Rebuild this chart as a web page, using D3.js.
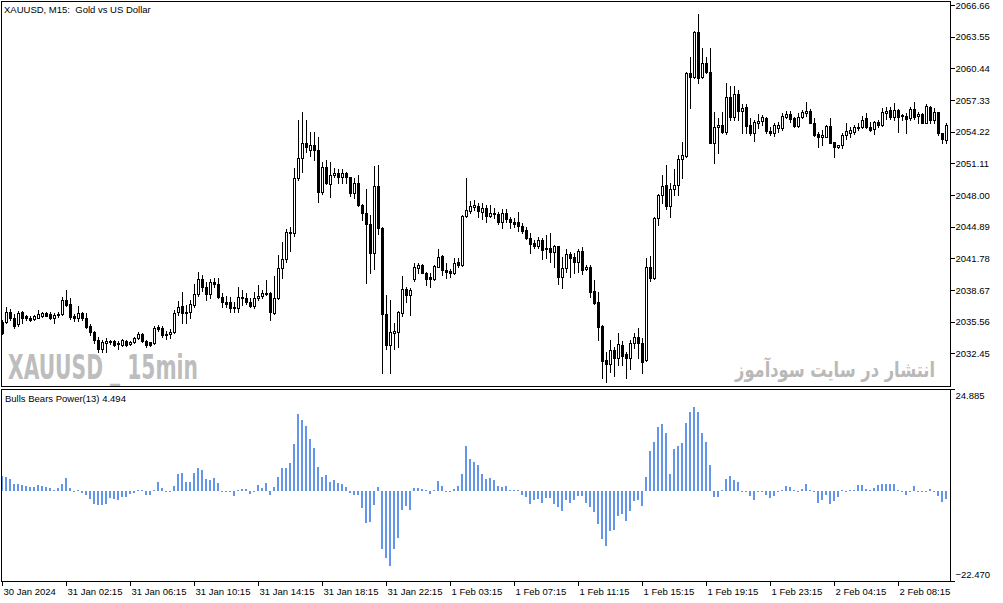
<!DOCTYPE html>
<html><head><meta charset="utf-8">
<script src="https://cdn.jsdelivr.net/npm/d3@7"></script>
<style>
html,body{margin:0;padding:0;background:#fff;overflow:hidden}
svg{display:block}
text{font-family:"Liberation Sans",Arial,sans-serif;font-size:9.5px;fill:#000}
</style></head><body>
<svg id="c" width="1003" height="603"></svg>
<script>
// ---- DATA (XAUUSD M15, bars from 30 Jan 2024 22:15) ----
const open=[2035.56,
2035.56,2036.48,2035.96,2035.30,2036.48,2036.15,2035.96,2035.79,2035.96,2036.15,
2036.38,2036.35,2035.89,2036.22,2036.28,2037.69,2037.27,2036.12,2035.89,2036.45,
2035.89,2035.14,2034.58,2033.76,2032.88,2033.44,2033.67,2033.67,2033.40,2033.27,
2033.67,2033.40,2033.53,2033.99,2034.35,2033.67,2033.53,2033.44,2035.07,2034.97,
2034.25,2034.35,2034.55,2036.48,2037.10,2036.55,2036.48,2037.20,2038.25,2039.76,
2039.00,2038.25,2039.49,2039.23,2038.02,2037.47,2037.47,2037.04,2036.87,2038.02,
2037.92,2037.47,2037.14,2037.86,2038.12,2038.35,2038.35,2036.38,2037.92,2040.80,
2041.72,2044.40,2044.30,2049.64,2051.67,2053.08,2052.42,2052.91,2052.42,2048.26,
2050.72,2049.08,2049.93,2050.13,2049.74,2050.13,2049.74,2048.17,2049.21,2047.02,
2046.27,2045.16,2042.34,2048.89,2044.73,2036.32,2033.27,2034.49,2034.58,2036.45,
2038.74,2038.18,2039.72,2040.80,2041.13,2040.38,2039.92,2039.72,2040.97,2042.01,
2040.64,2040.57,2040.31,2041.46,2041.13,2045.94,2046.47,2046.86,2046.92,2046.36,
2046.75,2045.97,2046.20,2046.10,2045.38,2046.20,2045.64,2045.31,2045.31,2044.99,
2044.56,2043.74,2043.25,2043.02,2043.58,2042.70,2042.76,2042.37,2042.99,2039.98,
2040.80,2042.17,2041.94,2041.39,2042.50,2040.73,2040.96,2038.57,2037.46,2035.18,
2031.80,2031.44,2032.78,2031.97,2033.28,2032.36,2032.03,2033.44,2034.09,2033.44,
2031.77,2040.97,2039.82,2045.71,2048.00,2048.99,2046.90,2048.56,2048.99,2051.51,
2051.87,2060.02,2059.56,2064.04,2059.56,2061.00,2060.12,2053.14,2054.65,2054.88,
2054.23,2057.66,2055.70,2057.93,2056.29,2056.68,2054.88,2054.06,2055.05,2055.31,
2055.54,2054.33,2054.13,2054.55,2054.55,2055.70,2055.96,2055.54,2054.78,2055.63,
2056.09,2056.29,2055.11,2054.00,2053.67,2053.74,2054.78,2053.25,2052.69,2052.92,
2053.90,2054.13,2054.23,2054.55,2054.65,2055.54,2054.72,2054.46,2055.21,2054.88,
2056.09,2056.35,2055.63,2056.35,2055.77,2055.77,2055.54,2056.42,2055.77,2055.96,
2055.11,2056.62,2055.37,2056.19,2054.06,2053.41];
const high=[2035.73,
2037.04,2036.78,2036.28,2036.61,2036.61,2036.22,2036.12,2036.22,2036.71,2036.55,
2036.55,2036.48,2036.38,2036.55,2038.02,2038.67,2037.86,2036.28,2037.14,2036.55,
2036.38,2035.30,2034.65,2034.09,2033.76,2033.93,2033.76,2033.76,2033.67,2033.86,
2033.76,2033.67,2034.09,2034.52,2034.42,2033.76,2033.60,2035.17,2035.24,2035.17,
2034.60,2034.80,2036.71,2037.60,2038.45,2037.20,2037.69,2039.23,2040.48,2040.15,
2039.49,2039.76,2039.82,2039.89,2038.35,2038.12,2038.02,2037.53,2039.00,2038.67,
2038.35,2037.86,2038.45,2039.17,2038.67,2039.66,2038.51,2040.08,2042.11,2043.36,
2044.66,2044.89,2050.69,2055.37,2056.19,2055.37,2054.22,2054.16,2053.73,2051.28,
2051.44,2051.28,2050.62,2050.52,2050.52,2050.29,2049.80,2049.64,2049.97,2047.12,
2048.56,2046.04,2050.85,2050.95,2044.89,2038.18,2037.69,2035.47,2036.65,2040.05,
2038.94,2038.84,2041.29,2041.36,2041.23,2040.48,2040.31,2041.13,2042.67,2042.11,
2041.29,2040.70,2041.78,2041.78,2046.04,2049.64,2047.45,2047.51,2047.25,2047.20,
2047.02,2047.02,2046.75,2046.30,2046.62,2046.62,2045.87,2045.71,2046.36,2045.22,
2044.89,2044.23,2043.58,2043.91,2043.74,2044.07,2044.23,2043.09,2043.02,2041.94,
2042.70,2042.37,2042.27,2042.70,2042.93,2041.13,2041.13,2039.65,2038.50,2035.24,
2032.62,2033.77,2033.11,2034.42,2033.67,2032.56,2033.77,2034.42,2034.91,2033.93,
2041.79,2042.05,2045.88,2048.07,2049.97,2050.95,2049.15,2050.53,2051.93,2053.24,
2060.12,2061.59,2064.14,2065.78,2062.41,2061.59,2062.41,2056.19,2055.53,2056.19,
2058.97,2058.71,2058.71,2058.32,2056.94,2056.94,2055.54,2055.37,2055.93,2055.86,
2055.63,2054.72,2055.11,2055.21,2056.03,2056.29,2056.29,2055.70,2056.09,2056.35,
2057.17,2056.42,2055.54,2054.23,2054.39,2054.88,2055.54,2053.25,2052.92,2054.13,
2055.05,2054.65,2054.88,2055.11,2055.77,2056.03,2055.21,2055.31,2055.37,2056.52,
2056.62,2056.68,2057.01,2056.42,2055.96,2056.03,2056.62,2057.17,2056.19,2056.03,
2056.94,2056.75,2056.52,2056.19,2054.13,2055.05];
const low=[2034.32,
2035.40,2035.73,2034.97,2035.17,2035.40,2035.73,2035.63,2035.70,2035.89,2036.06,
2036.15,2035.79,2035.40,2036.06,2036.22,2037.14,2035.83,2035.63,2035.66,2035.73,
2034.97,2034.25,2033.44,2032.62,2032.62,2032.62,2033.34,2033.21,2032.88,2033.21,
2033.21,2033.27,2033.44,2033.86,2033.53,2033.11,2033.21,2033.34,2034.65,2034.09,
2033.90,2034.00,2034.45,2036.22,2035.40,2035.40,2035.89,2037.04,2038.12,2038.58,
2037.69,2037.92,2039.00,2037.86,2037.04,2037.04,2036.55,2036.55,2036.55,2037.20,
2037.27,2037.04,2036.87,2037.69,2037.86,2038.18,2035.73,2036.29,2037.79,2039.89,
2041.46,2042.50,2044.01,2049.48,2050.29,2052.26,2051.87,2051.44,2047.35,2048.07,
2049.08,2047.77,2049.80,2049.21,2049.21,2049.21,2047.91,2047.68,2046.92,2045.55,
2039.40,2040.38,2040.70,2044.17,2030.56,2032.85,2030.56,2032.85,2033.05,2036.12,
2037.53,2036.22,2039.59,2040.31,2040.31,2039.17,2038.94,2039.66,2040.90,2040.15,
2039.82,2039.98,2040.25,2040.97,2041.03,2045.81,2046.27,2046.53,2045.81,2045.65,
2045.38,2045.87,2045.71,2045.12,2044.79,2045.31,2044.73,2044.89,2044.46,2044.23,
2043.68,2042.27,2042.76,2042.76,2041.71,2041.85,2041.45,2040.96,2039.23,2038.83,
2040.47,2039.98,2040.31,2040.41,2040.21,2040.63,2038.02,2037.26,2033.77,2030.00,
2029.68,2030.59,2030.27,2031.31,2031.31,2030.00,2030.92,2032.95,2031.97,2030.49,
2031.71,2039.56,2039.76,2045.06,2047.19,2046.60,2045.80,2048.00,2048.00,2049.64,
2051.77,2056.52,2059.46,2059.04,2059.46,2059.95,2053.08,2051.18,2052.10,2054.06,
2054.00,2055.37,2055.37,2055.37,2054.13,2054.13,2053.90,2053.34,2054.55,2054.88,
2054.13,2053.90,2053.80,2054.23,2054.39,2055.54,2055.21,2054.65,2054.65,2055.54,
2055.77,2055.05,2053.80,2052.75,2052.92,2053.67,2053.08,2051.77,2052.59,2052.59,
2053.47,2053.74,2054.00,2054.39,2054.55,2054.55,2054.33,2054.00,2054.72,2054.78,
2055.44,2055.44,2055.37,2054.23,2055.37,2054.06,2055.37,2055.44,2055.05,2055.11,
2055.05,2055.05,2055.11,2053.90,2053.08,2053.15];
const close=[2034.42,
2036.48,2035.89,2035.14,2036.38,2035.96,2035.89,2035.73,2036.09,2036.35,2036.42,
2036.15,2035.89,2036.22,2036.32,2037.69,2037.20,2035.99,2035.89,2036.38,2035.89,
2035.07,2034.52,2033.76,2032.88,2033.60,2033.67,2033.53,2033.27,2033.50,2033.76,
2033.27,2033.60,2033.99,2034.32,2033.67,2033.27,2033.27,2034.97,2034.84,2034.25,
2034.35,2034.55,2036.38,2037.04,2036.38,2036.38,2037.27,2038.25,2039.76,2039.00,
2038.25,2039.49,2039.23,2038.02,2037.47,2037.27,2036.87,2036.87,2038.02,2037.92,
2037.47,2037.14,2037.86,2038.12,2038.35,2038.32,2036.48,2037.92,2040.80,2041.72,
2044.40,2044.30,2049.64,2051.67,2053.08,2052.75,2052.91,2052.42,2048.26,2050.79,
2049.21,2049.97,2050.13,2049.74,2050.13,2049.74,2048.17,2049.21,2047.02,2046.27,
2045.16,2042.34,2048.89,2044.73,2036.32,2033.27,2034.58,2034.68,2036.55,2038.74,
2038.18,2038.68,2040.90,2041.13,2040.38,2039.79,2039.72,2041.03,2041.88,2040.64,
2040.48,2040.31,2041.36,2041.13,2045.94,2046.53,2046.92,2047.02,2046.47,2046.72,
2045.97,2046.20,2046.10,2045.38,2046.20,2045.64,2045.31,2045.12,2044.99,2044.46,
2043.74,2043.15,2043.02,2043.58,2042.60,2042.76,2042.43,2042.99,2039.98,2040.80,
2042.17,2041.85,2041.39,2042.50,2040.63,2040.96,2038.51,2037.36,2035.08,2031.71,
2031.44,2032.78,2031.97,2033.34,2032.23,2032.03,2033.44,2034.09,2033.44,2031.64,
2040.97,2039.82,2045.71,2048.00,2048.92,2046.90,2048.56,2048.99,2051.51,2051.93,
2060.02,2059.56,2064.04,2059.46,2061.00,2060.12,2053.14,2054.65,2054.88,2054.22,
2057.66,2055.70,2057.93,2056.29,2056.52,2054.78,2054.06,2055.21,2055.27,2055.63,
2054.33,2054.06,2054.88,2054.88,2055.77,2055.96,2055.44,2054.78,2055.70,2056.19,
2056.29,2055.05,2053.90,2053.67,2053.90,2054.78,2053.15,2052.69,2052.92,2053.90,
2054.33,2054.39,2054.65,2054.72,2055.37,2054.72,2054.39,2055.21,2054.88,2056.19,
2056.29,2055.63,2056.35,2055.70,2055.86,2055.44,2056.42,2055.63,2055.96,2055.11,
2056.75,2055.37,2056.19,2054.06,2053.47,2054.88];
const bullsBears=[3.6,
3.45,3.04,1.81,1.81,1.48,1.15,0.99,0.99,1.48,1.15,
0.99,0.82,0.16,0.74,1.81,3.29,0.74,-0.08,0.25,-0.49,
-0.99,-1.97,-3.13,-3.45,-3.45,-3.13,-1.73,-1.97,-2.22,-1.48,
-1.40,-0.74,-0.49,0.33,0.08,-0.90,-0.90,0.33,2.30,0.82,
-0.25,-0.16,1.23,4.28,4.52,2.30,2.30,4.52,5.67,5.18,
3.04,2.71,3.29,2.06,-0.16,-0.16,-0.33,-1.15,0.33,0.58,
0.58,-0.66,-0.08,1.56,0.82,2.06,-0.90,0.99,3.45,5.76,
5.76,6.99,11.68,19.08,17.60,16.12,12.83,10.69,5.92,3.54,
4.03,2.30,2.71,1.97,1.81,0.99,-0.41,-0.90,-0.90,-4.11,
-7.81,-7.57,-3.37,0.99,-14.23,-16.45,-18.42,-14.23,-11.51,-4.61,
-3.70,-4.61,0.82,0.82,0.58,0.16,-0.66,0.33,2.55,1.32,
-0.16,-0.08,0.58,1.32,4.28,11.10,7.98,7.24,6.50,4.28,
3.04,3.29,2.80,1.32,0.99,1.23,0.08,0.08,0.25,-0.90,
-1.40,-3.13,-2.14,-1.89,-2.88,-1.64,-1.64,-3.13,-3.87,-4.85,
-2.14,-2.88,-2.14,-1.15,-1.15,-2.88,-3.87,-5.10,-8.06,-11.76,
-13.49,-9.79,-9.54,-6.09,-5.59,-7.32,-4.85,-2.38,-2.14,-3.62,
3.45,9.87,12.09,15.79,16.61,14.31,4.19,10.36,11.10,11.84,
16.78,19.49,20.72,19.49,14.31,12.09,6.41,-1.48,-1.48,0.08,
2.96,3.70,2.71,2.30,-0.08,-0.08,-1.15,-2.14,-0.08,-0.33,
-0.90,-1.64,-1.15,-0.08,0.08,1.23,0.99,0.08,-0.08,0.58,
1.73,0.33,-0.25,-2.88,-2.14,-0.90,-3.13,-2.38,-1.40,0.25,
-0.08,0.25,0.25,1.48,1.48,0.49,0.33,0.74,1.48,1.73,
1.73,1.73,1.73,0.08,-0.08,-0.90,-0.08,1.23,-0.08,-0.08,
-0.08,0.49,-0.16,-1.23,-2.63,-1.89];
const priceTicks=[2066.66,2063.55,2060.44,2057.33,2054.22,2051.11,2048.00,2044.89,2041.78,2038.67,2035.56,2032.45];
const indTicks=[24.885,-22.470];
const timeTickBars=[0,16,32,48,64,80,96,112,128,144,160,176,192,208,224];
const timeLabels=["30 Jan 2024","31 Jan 02:15","31 Jan 06:15","31 Jan 10:15","31 Jan 14:15","31 Jan 18:15","31 Jan 22:15","1 Feb 03:15","1 Feb 07:15","1 Feb 11:15","1 Feb 15:15","1 Feb 19:15","1 Feb 23:15","2 Feb 04:15","2 Feb 08:15"];
const chartTitle="XAUUSD, M15:  Gold vs US Dollar";
const indTitle="Bulls Bears Power(13) 4.494";

// ---- LAYOUT ----
const svg=d3.select('#c').attr('shape-rendering','crispEdges');
const PR=950; // right edge of panels
const main={top:1,bottom:386};
const ind={top:390,bottom:582};
const x=d3.scaleLinear().domain([0,open.length-1]).range([2,2+4*(open.length-1)]);
const y=d3.scaleLinear().domain([2032.45,2066.66]).range([353.33,5]);
const yi=d3.scaleLinear().domain([-22.470,24.885]).range([ind.bottom,ind.top]);

const defs=svg.append('defs');
defs.append('clipPath').attr('id','clipMain').append('rect').attr('x',2).attr('y',2).attr('width',PR-2).attr('height',main.bottom-2);
defs.append('clipPath').attr('id','clipInd').append('rect').attr('x',2).attr('y',ind.top).attr('width',PR-2).attr('height',ind.bottom-ind.top);

svg.append('rect').attr('width',1003).attr('height',603).attr('fill','#fff');

// watermarks
function fitText(t,w){const n=t.node();const cw=n.getComputedTextLength();const cx=+t.attr('x');t.attr('transform',`translate(${cx},0) scale(${w/cw},1) translate(${-cx},0)`);}
const wm1=svg.append('text').attr('x',8).attr('y',379).text('XAUUSD _ 15min')
  .style('font-family','"Liberation Sans Narrow","DejaVu Sans Condensed","Liberation Sans",sans-serif')
  .style('font-size','33px').style('font-weight','bold').style('fill','#bdbdbd').style('white-space','pre');
fitText(wm1,190);
const wm2=svg.append('text').attr('x',835).attr('y',377).attr('text-anchor','middle').text('انتشار در سایت سودآموز')
  .style('font-family','"DejaVu Sans",sans-serif').style('font-size','21px').style('font-weight','bold').style('fill','#b9b9b9');
fitText(wm2,200);

// candles
const idx=d3.range(open.length);
const gc=svg.append('g').attr('clip-path','url(#clipMain)');
gc.selectAll('line.w').data(idx).join('line').attr('class','w')
  .attr('x1',i=>Math.round(x(i))+0.5).attr('x2',i=>Math.round(x(i))+0.5)
  .attr('y1',i=>Math.round(y(high[i]))).attr('y2',i=>Math.round(y(low[i]))+1)
  .attr('stroke','#000').attr('stroke-width',1);
gc.selectAll('rect.b').data(idx).join('rect').attr('class','b')
  .attr('x',i=>Math.round(x(i))-0.5).attr('width',2)
  .attr('y',i=>Math.min(Math.round(y(open[i])),Math.round(y(close[i])))+0.5)
  .attr('height',i=>Math.abs(Math.round(y(open[i]))-Math.round(y(close[i]))))
  .attr('fill',i=>close[i]>=open[i]?'#fff':'#000').attr('stroke','#000').attr('stroke-width',1);

// indicator bars
const z=Math.round(yi(0));
svg.append('g').attr('clip-path','url(#clipInd)').selectAll('rect').data(idx).join('rect')
  .attr('x',i=>Math.round(x(i))-1).attr('width',2)
  .attr('y',i=>{const v=Math.round(yi(bullsBears[i]));return bullsBears[i]>=0?Math.min(v,z-1):z;})
  .attr('height',i=>Math.max(1,Math.abs(Math.round(yi(bullsBears[i]))-z)))
  .attr('fill','#6495ED');

// frames
svg.append('rect').attr('x',1.5).attr('y',main.top+0.5).attr('width',PR-1).attr('height',main.bottom-main.top).attr('fill','none').attr('stroke','#000');
svg.append('rect').attr('x',1.5).attr('y',ind.top-0.5).attr('width',PR-1).attr('height',ind.bottom-ind.top).attr('fill','none').attr('stroke','#000');

// price axis
const ax=svg.append('g').attr('transform',`translate(${PR+0.5},0)`)
  .call(d3.axisRight(y).tickValues(priceTicks).tickSize(4).tickPadding(1).tickFormat(d3.format('.2f')));
ax.select('.domain').remove();
ax.selectAll('text').style('font-family','"Liberation Sans",Arial,sans-serif').style('font-size','9.5px');

// indicator axis
const ai=svg.append('g').attr('transform',`translate(${PR+0.5},0)`)
  .call(d3.axisRight(yi).tickValues(indTicks).tickSize(4).tickPadding(1).tickFormat(d3.format('.3f')));
ai.select('.domain').remove();
ai.selectAll('.tick').attr('transform',d=>`translate(0,${d>0?ind.top-0.5:ind.bottom-0.5})`);
ai.selectAll('text').attr('dy',d=>d>0?'1.0em':'-0.35em').style('font-family','"Liberation Sans",Arial,sans-serif').style('font-size','9.5px');

// time axis
const at=svg.append('g').attr('transform',`translate(0,${ind.bottom-0.5})`)
  .call(d3.axisBottom(x).tickValues(timeTickBars).tickSize(4).tickPadding(3).tickFormat((d,i)=>timeLabels[i]));
at.select('.domain').remove();
at.selectAll('text').attr('text-anchor','start').attr('x',1).style('font-family','"Liberation Sans",Arial,sans-serif').style('font-size','9.5px');

// titles
svg.append('text').attr('x',4).attr('y',13).text(chartTitle).style('white-space','pre');
svg.append('text').attr('x',5).attr('y',402).text(indTitle);
</script>
</body></html>
